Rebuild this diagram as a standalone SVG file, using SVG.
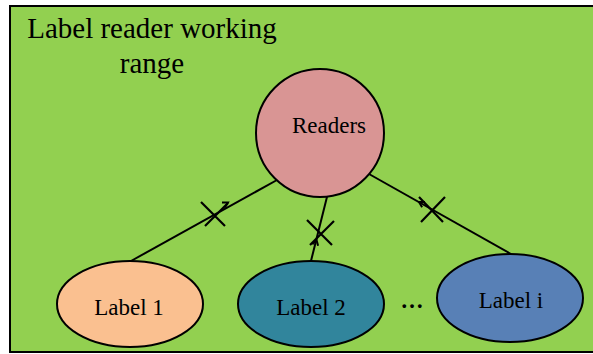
<svg xmlns="http://www.w3.org/2000/svg" width="593" height="354" viewBox="0 0 593 354">
  <style>
    .txt { font-family: "Liberation Serif", "Times New Roman", serif; fill: #000; }
    .shape { stroke: #000; stroke-width: 2; }
    .link { stroke: #000; stroke-width: 2; fill: none; }
    .cut { stroke: #000; stroke-width: 2.2; fill: none; }
  </style>

  <!-- working range area -->
  <g id="range">
    <rect x="10" y="6" width="590" height="346" fill="#92D050" class="shape"/>
    <text class="txt" x="152" y="38" font-size="29" text-anchor="middle">Label reader working</text>
    <text class="txt" x="152" y="73" font-size="29" text-anchor="middle">range</text>
  </g>

  <!-- connectors with blocked links -->
  <g id="connectors">
    <line class="link" x1="277" y1="180" x2="131" y2="261"/>
    <line class="link" x1="327" y1="197" x2="311" y2="261"/>
    <line class="link" x1="369" y1="174" x2="511" y2="254"/>
    <path class="link" stroke-width="1.6" d="M222,202.4 L228,202.5 L224.9,207.6"/>
    <path class="link" stroke-width="1.6" d="M312.3,244.3 L316.5,240 L318.1,245.8"/>
    <path class="link" stroke-width="1.6" d="M422.1,207.2 L419,202 L425,202"/>
    <path class="cut" d="M201,202 L225,226 M205,226 L228,203"/>
    <path class="cut" d="M307,220 L332,245 M310,245 L334,221"/>
    <path class="cut" d="M419,197 L443,222 M421,222 L445,197"/>
  </g>

  <g id="readers">
    <circle cx="320" cy="133" r="64" fill="#D99594" class="shape"/>
    <text class="txt" x="329" y="133" font-size="23" text-anchor="middle">Readers</text>
  </g>

  <g id="label1">
    <ellipse cx="130" cy="304" rx="73" ry="43" fill="#FAC090" class="shape"/>
    <text class="txt" x="129" y="315" font-size="23" text-anchor="middle">Label 1</text>
  </g>

  <g id="label2">
    <ellipse cx="311" cy="304" rx="73" ry="43" fill="#31859C" class="shape"/>
    <text class="txt" x="311" y="315" font-size="23" text-anchor="middle">Label 2</text>
  </g>

  <g id="ellipsis">
    <text class="txt" x="412" y="308" font-size="23" text-anchor="middle" font-weight="bold">…</text>
  </g>

  <g id="labeli">
    <ellipse cx="510" cy="298" rx="73" ry="44" fill="#5880B6" class="shape"/>
    <text class="txt" x="511" y="308" font-size="23" text-anchor="middle">Label i</text>
  </g>
</svg>
